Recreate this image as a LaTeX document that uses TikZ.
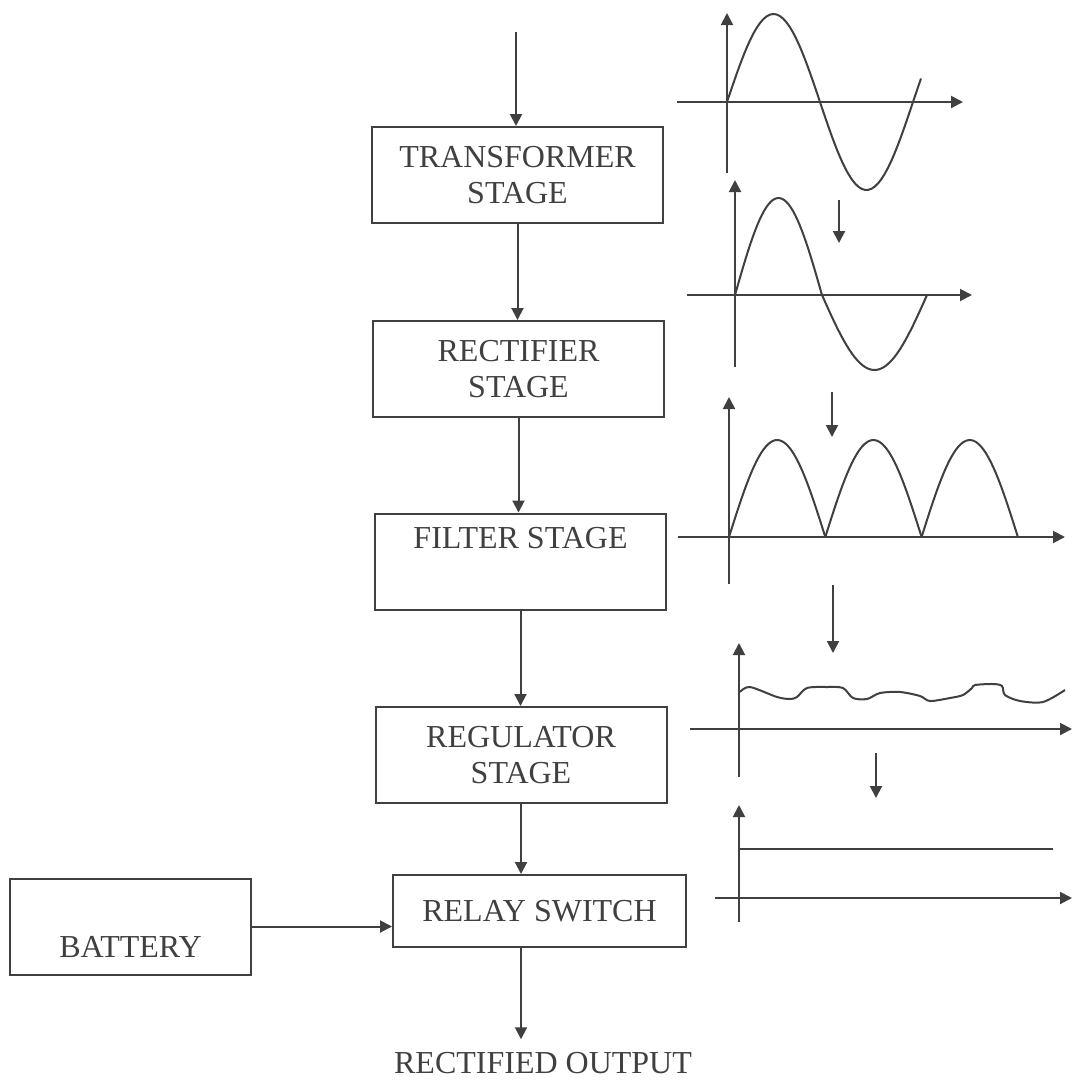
\documentclass[tikz,border=0pt]{standalone}
\usepackage{fontspec}
\setmainfont{Liberation Serif}
\usetikzlibrary{arrows.meta,positioning}

\begin{document}
\begin{tikzpicture}[
  x=0.5pt, y=-0.5pt, line width=1pt, color=black!75,
  stage/.style={rectangle, draw, minimum width=145.5pt, minimum height=48pt, align=center, inner sep=1pt, font=\fontsize{16}{18}\selectfont},
  caption/.style={inner sep=2pt, font=\fontsize{16}{18}\selectfont},
  >={Triangle[length=6pt,width=6pt]}
]
\path[fill=white, draw=none] (0,0) rectangle (1066,1083);

% stages
\node[stage] (trans) at (517.5,175)   {TRANSFORMER\\STAGE};
\node[stage] (rect)  at (518.5,369)   {RECTIFIER\\STAGE};
\node[stage] (filt)  at (520.5,561.5) {FILTER STAGE\\\strut};
\node[stage] (reg)   at (521,755)     {REGULATOR\\STAGE};
\node[stage, minimum width=146.5pt, minimum height=36pt] (relay) at (539.5,911) {RELAY SWITCH};
\node[stage, minimum width=120.5pt] (batt) at (130.5,926.5) {\strut\\BATTERY};
\node[caption] (out) at (543,1063) {RECTIFIED OUTPUT};

\coordinate (in) at (516,32);
\draw[->] (in) -- (in |- trans.north);
\draw[->] (trans.south) -- (trans.south |- rect.north);
\draw[->] (rect.south) -- (rect.south |- filt.north);
\draw[->] (filt.south) -- (filt.south |- reg.north);
\draw[->] (reg.south) -- (reg.south |- relay.north);
\draw[->] (reg.south |- relay.south) -- ([yshift=4pt]reg.south |- out.north);
\draw[->] (batt.east) -- (batt.east -| relay.west);

% waveforms
% ac input
\draw[->] (727,173) -- (727,13);
\draw[->] (677,102) -- (963,102);
\draw plot[domain=0:194, samples=60] ({727+\x},{102-88*sin(\x/186*360)});
% transformer output
\draw[->] (735,367) -- (735,180);
\draw[->] (687,295) -- (972,295);
\draw plot[domain=0:87, samples=40] ({735+\x},{295-97*sin(\x/87*180)});
\draw plot[domain=0:105, samples=40] ({822+\x},{295+75*sin(\x/105*180)});
% rectified
\draw[->] (729,584) -- (729,397);
\draw[->] (678,537) -- (1065,537);
\foreach \k in {0,1,2}
  \draw plot[domain=0:96.3, samples=40] ({729+96.3*\k+\x},{537-97*sin(\x/96.3*180)});
% ripple
\draw[->] (739,777) -- (739,643);
\draw[->] (690,729) -- (1072,729);
\draw plot[smooth] coordinates {(740,692) (750,687) (777,697) (790,699) (797,697) (807,688)
  (827,687) (843,688) (853,698) (867,699) (880,693) (900,692) (920,696) (930,701)
  (950,698) (963,695) (972,688) (975,685) (993,684) (1002,686) (1005,695) (1020,701)
  (1043,702) (1065,690)};
% regulated dc
\draw[->] (739,922) -- (739,805);
\draw (739,849) -- (1053,849);
\draw[->] (715,898) -- (1072,898);

% arrows between waveforms
\foreach \x/\ya/\yb [count=\i] in {839/200/243, 832/392/437, 833/585/653, 876/753/798}{
  \coordinate (s\i) at (\x,\ya);
  \coordinate (e\i) at (\x,\yb);
  \draw[->] (s\i) -- (e\i);
}
\end{tikzpicture}
\end{document}
